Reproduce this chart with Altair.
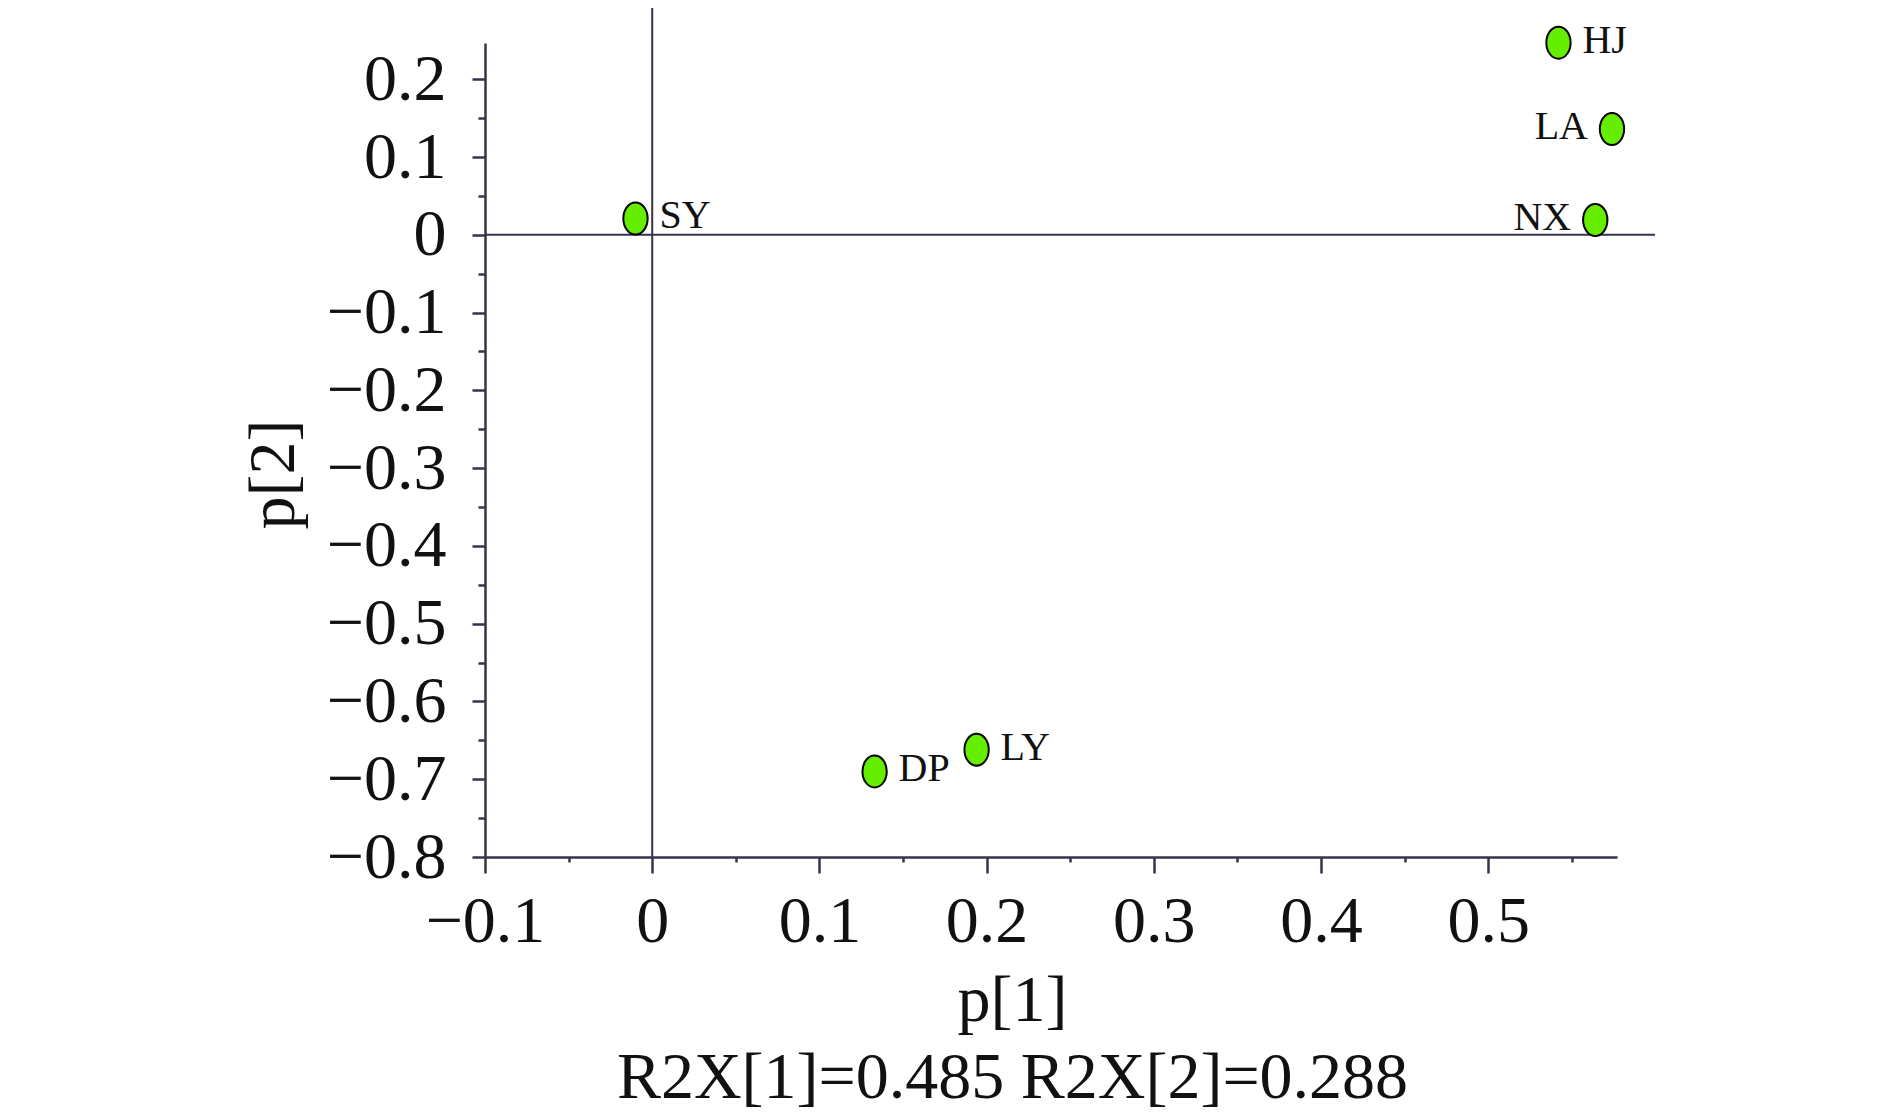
import altair as alt
import pandas as pd

# ---- data ----
NAMES = ["HJ", "LA", "NX", "SY", "DP", "LY"]
P1 = [0.542, 0.574, 0.564, -0.010, 0.133, 0.194]
P2 = [0.247, 0.136, 0.019, 0.021, -0.690, -0.662]

X_TICKS = [-0.1, 0.0, 0.1, 0.2, 0.3, 0.4, 0.5]
X_MINOR = [-0.05, 0.05, 0.15, 0.25, 0.35, 0.45, 0.55]
Y_TICKS = [-0.8, -0.7, -0.6, -0.5, -0.4, -0.3, -0.2, -0.1, 0.0, 0.1, 0.2]
Y_MINOR = [-0.75, -0.65, -0.55, -0.45, -0.35, -0.25, -0.15, -0.05, 0.05, 0.15]

X_DOMAIN = [-0.1, 0.577]
Y_DOMAIN = [-0.8, 0.2466]

X_TITLE = ["p[1]", "R2X[1]=0.485 R2X[2]=0.288"]
Y_TITLE = "p[2]"

LEFT_LABELS = ["LA", "NX"]   # labels drawn on the left side of their point

# ---- styling ----
W, H = 1132, 814
FONT = "Liberation Serif"
AXC = "#34344a"
GREEN = "#66EE00"
A = 0.76
K = round(0.5523 * A, 4)
ELLIPSE = (f"M0,-1 C{K},-1 {A},-0.5523 {A},0 C{A},0.5523 {K},1 0,1 "
           f"C-{K},1 -{A},0.5523 -{A},0 C-{A},-0.5523 -{K},-1 0,-1 Z")

df = pd.DataFrame({"name": NAMES, "p1": P1, "p2": P2})
df["side"] = ["left" if n in LEFT_LABELS else "right" for n in NAMES]
zero = pd.DataFrame({"v": [0.0]})

xs = alt.Scale(domain=X_DOMAIN, nice=False, zero=False)
ys = alt.Scale(domain=Y_DOMAIN, nice=False, zero=False)

common_axis = dict(
    grid=False, domainColor=AXC, tickColor=AXC, domainWidth=2.5, tickWidth=2.5,
    labelFont=FONT, labelFontSize=66, labelColor="#111111", format="~g",
    titleFont=FONT, titleFontSize=66, titleFontWeight="normal", titleColor="#111111",
)

x_major = alt.Axis(orient="bottom", values=X_TICKS, tickSize=16, labelPadding=16,
                   title=X_TITLE, titleX=527, titleY=163, titleAlign="center",
                   titleBaseline="alphabetic", titleLineHeight=77, labelFlush=False,
                   labelOverlap=False, **common_axis)
y_major = alt.Axis(orient="left", values=Y_TICKS, tickSize=13, labelPadding=26,
                   title=Y_TITLE, titleAngle=270, titleX=-192, titleY=431,
                   titleAlign="center", titleBaseline="alphabetic",
                   labelFlush=False, labelOverlap=False, **common_axis)
x_minor = alt.Axis(orient="bottom", values=X_MINOR, tickSize=5, labels=False,
                   domain=False, grid=False, title=None, tickColor=AXC, tickWidth=2.5)
y_minor = alt.Axis(orient="left", values=Y_MINOR, tickSize=7, labels=False,
                   domain=False, grid=False, title=None, tickColor=AXC, tickWidth=2.5)

vline = alt.Chart(zero).mark_rule(color=AXC, strokeWidth=2).encode(
    x=alt.X("v:Q", scale=xs, axis=x_minor),
    y=alt.value(-35), y2=alt.value(H),
)
hline = alt.Chart(zero).mark_rule(color=AXC, strokeWidth=2).encode(
    y=alt.Y("v:Q", scale=ys, axis=y_minor),
    x=alt.value(0), x2=alt.value(1170),
)

points = alt.Chart(df).mark_point(
    shape=ELLIPSE, size=1024, filled=True, fill=GREEN, stroke="#000000",
    strokeWidth=2, opacity=1,
).encode(
    x=alt.X("p1:Q", scale=xs, axis=x_major),
    y=alt.Y("p2:Q", scale=ys, axis=y_major),
)

text_right = alt.Chart(df).transform_filter(alt.datum.side == "right").mark_text(
    align="left", baseline="middle", dx=24, dy=-2, font=FONT, fontSize=40, color="#111111",
).encode(
    x=alt.X("p1:Q", scale=xs, axis=None),
    y=alt.Y("p2:Q", scale=ys, axis=None),
    text="name:N",
)
text_left = alt.Chart(df).transform_filter(alt.datum.side == "left").mark_text(
    align="right", baseline="middle", dx=-24, dy=-2, font=FONT, fontSize=40, color="#111111",
).encode(
    x=alt.X("p1:Q", scale=xs, axis=None),
    y=alt.Y("p2:Q", scale=ys, axis=None),
    text="name:N",
)

chart = alt.layer(vline, hline, points, text_right, text_left).resolve_axis(
    x="independent", y="independent"
).properties(
    width=W, height=H,
    autosize=alt.AutoSizeParams(type="none"),
    padding={"left": 477, "top": 35, "right": 60, "bottom": 255},
    background="white",
).configure_view(stroke=None)

chart.save("out.html", embed_options={"renderer": "svg", "actions": False})
